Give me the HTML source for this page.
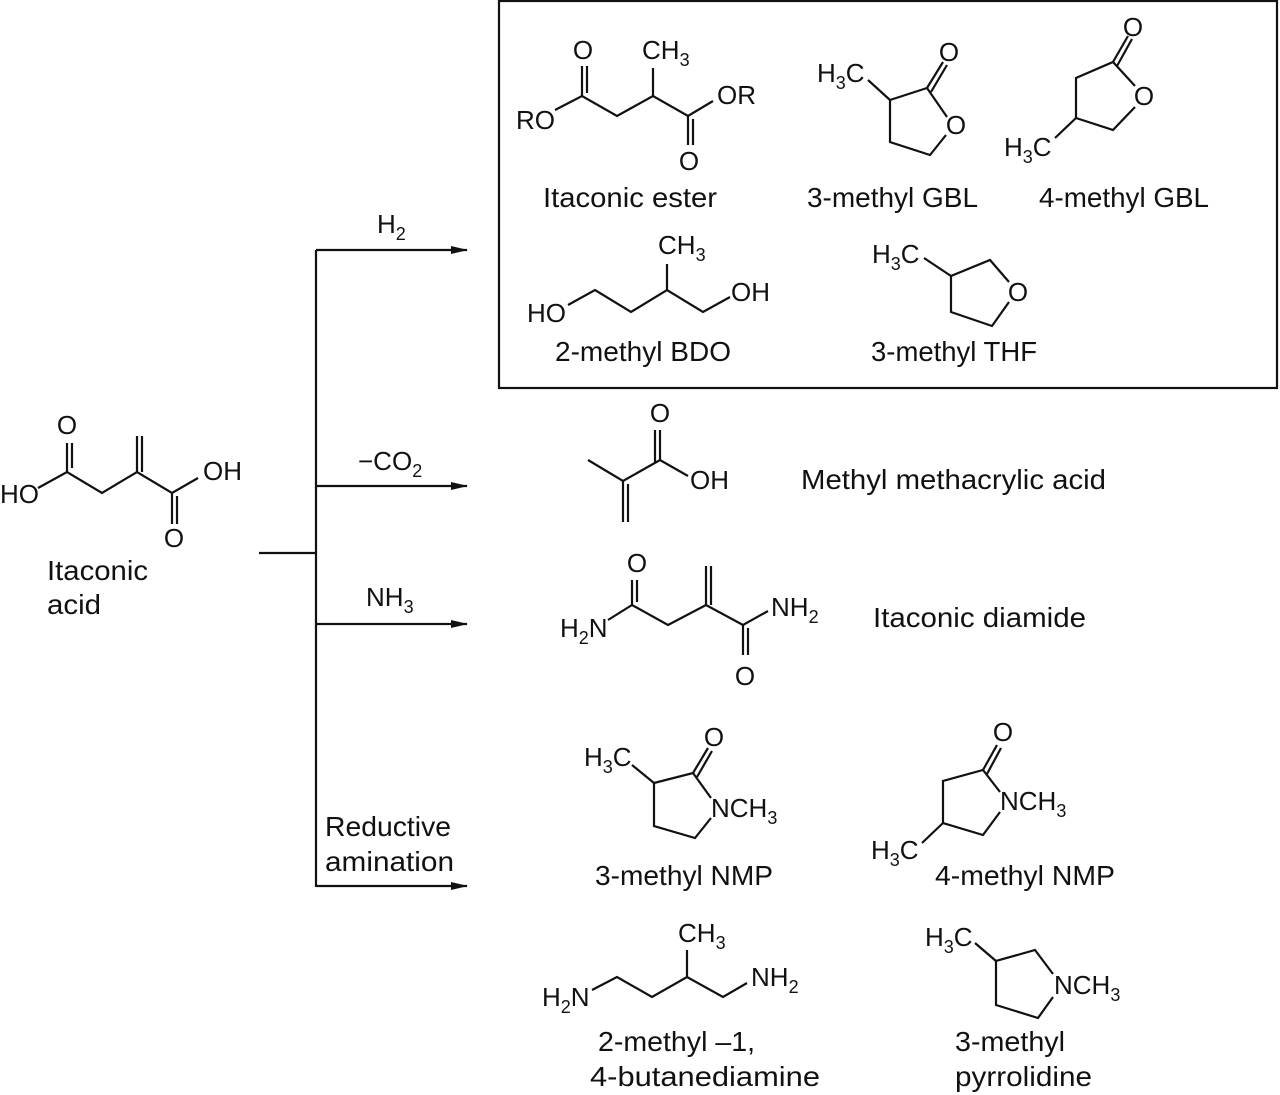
<!DOCTYPE html>
<html><head><meta charset="utf-8"><style>
html,body{margin:0;padding:0;background:#fff;}
svg{display:block;}
text{font-family:"Liberation Sans Narrow","Liberation Sans",sans-serif;fill:#111;}
.a{font-size:26px;}
.l{font-size:28px;}
.s{font-size:18px;}
line,polyline,polygon{stroke:#111;stroke-width:2.2;fill:none;}
</style></head><body>
<svg width="1280" height="1095" viewBox="0 0 1280 1095" xmlns="http://www.w3.org/2000/svg">
<defs><marker id="ar" markerWidth="18" markerHeight="10" refX="16" refY="5" orient="auto" markerUnits="userSpaceOnUse"><polygon points="0,1 17,5 0,9" style="fill:#111;stroke:none"/></marker></defs>

<rect x="499" y="1" width="778" height="387" fill="none" stroke="#111" stroke-width="2.2"/>

<line x1="259" y1="553" x2="316" y2="553"/>
<line x1="316" y1="250" x2="316" y2="887"/>
<line x1="316" y1="250" x2="467" y2="250" marker-end="url(#ar)"/>
<line x1="316" y1="486" x2="467" y2="486" marker-end="url(#ar)"/>
<line x1="316" y1="624" x2="467" y2="624" marker-end="url(#ar)"/>
<line x1="316" y1="886" x2="467" y2="886" marker-end="url(#ar)"/>
<text class="a" x="377" y="233">H<tspan class="s" dy="7">2</tspan></text>
<text class="a" x="358" y="470">−CO<tspan class="s" dy="7">2</tspan></text>
<text class="a" x="366" y="606">NH<tspan class="s" dy="7">3</tspan></text>
<text class="l" x="325" y="836" textLength="126" lengthAdjust="spacingAndGlyphs">Reductive</text>
<text class="l" x="325" y="871" textLength="129" lengthAdjust="spacingAndGlyphs">amination</text>

<!-- itaconic acid -->
<text class="a" x="0" y="503">HO</text>
<polyline points="38,488 67,472 102,493 137,472 172,493 198,478"/>
<line x1="67" y1="472" x2="67" y2="443"/><line x1="72" y1="468" x2="72" y2="443"/>
<text class="a" x="67" y="434" text-anchor="middle">O</text>
<line x1="137" y1="472" x2="137" y2="436"/><line x1="142" y1="472" x2="142" y2="436"/>
<line x1="172" y1="493" x2="172" y2="524"/><line x1="177" y1="496" x2="177" y2="524"/>
<text class="a" x="174" y="547" text-anchor="middle">O</text>
<text class="a" x="203" y="480">OH</text>
<text class="l" x="47" y="580" textLength="101" lengthAdjust="spacingAndGlyphs">Itaconic</text>
<text class="l" x="47" y="614" textLength="54" lengthAdjust="spacingAndGlyphs">acid</text>

<!-- itaconic ester -->
<text class="a" x="516" y="129">RO</text>
<polyline points="555,110 582,96 617,116 653,96 688,116 713,101"/>
<line x1="582" y1="96" x2="582" y2="66"/><line x1="587" y1="93" x2="587" y2="66"/>
<text class="a" x="583" y="59" text-anchor="middle">O</text>
<line x1="653" y1="96" x2="653" y2="68"/>
<text class="a" x="642" y="59">CH<tspan class="s" dy="7">3</tspan></text>
<line x1="688" y1="116" x2="688" y2="145"/><line x1="693" y1="119" x2="693" y2="145"/>
<text class="a" x="689" y="170" text-anchor="middle">O</text>
<text class="a" x="717" y="104">OR</text>
<text class="l" x="543" y="207" textLength="174" lengthAdjust="spacingAndGlyphs">Itaconic ester</text>

<!-- 3-methyl GBL -->
<text class="a" x="817" y="82">H<tspan class="s" dy="7">3</tspan><tspan dy="-7">C</tspan></text>
<line x1="868" y1="80" x2="890" y2="100"/>
<polyline points="890,100 927,88 947,117"/>
<polyline points="946,135 930,155 890,142 890,100"/>
<line x1="927" y1="88" x2="943" y2="62"/><line x1="931" y1="92" x2="947" y2="65"/>
<text class="a" x="949" y="61" text-anchor="middle">O</text>
<text class="a" x="956" y="134" text-anchor="middle">O</text>
<text class="l" x="807" y="207" textLength="171" lengthAdjust="spacingAndGlyphs">3-methyl GBL</text>

<!-- 4-methyl GBL -->
<polyline points="1135,107 1113,130 1076,118 1076,78 1113,62 1135,86"/>
<line x1="1113" y1="62" x2="1128" y2="36"/><line x1="1117" y1="66" x2="1132" y2="39"/>
<text class="a" x="1133" y="36" text-anchor="middle">O</text>
<text class="a" x="1144" y="105" text-anchor="middle">O</text>
<line x1="1076" y1="118" x2="1055" y2="138"/>
<text class="a" x="1004" y="156">H<tspan class="s" dy="7">3</tspan><tspan dy="-7">C</tspan></text>
<text class="l" x="1039" y="207" textLength="170" lengthAdjust="spacingAndGlyphs">4-methyl GBL</text>

<!-- 2-methyl BDO -->
<text class="a" x="527" y="322">HO</text>
<polyline points="568,305 595,290 631,312 667,290 703,312 730,297"/>
<line x1="667" y1="290" x2="667" y2="264"/>
<text class="a" x="658" y="254">CH<tspan class="s" dy="7">3</tspan></text>
<text class="a" x="731" y="301">OH</text>
<text class="l" x="555" y="361" textLength="176" lengthAdjust="spacingAndGlyphs">2-methyl BDO</text>

<!-- 3-methyl THF -->
<text class="a" x="872" y="263">H<tspan class="s" dy="7">3</tspan><tspan dy="-7">C</tspan></text>
<line x1="924" y1="258" x2="951" y2="276"/>
<polyline points="1009,282 990,260 951,276 951,312 992,326 1009,302"/>
<text class="a" x="1018" y="301" text-anchor="middle">O</text>
<text class="l" x="871" y="361" textLength="166" lengthAdjust="spacingAndGlyphs">3-methyl THF</text>

<!-- methacrylic acid -->
<polyline points="588,460 623,481 660,460 688,476"/>
<line x1="623" y1="481" x2="623" y2="522"/><line x1="628" y1="484" x2="628" y2="522"/>
<line x1="655" y1="463" x2="655" y2="430"/><line x1="660" y1="460" x2="660" y2="430"/>
<text class="a" x="660" y="422" text-anchor="middle">O</text>
<text class="a" x="690" y="489">OH</text>
<text class="l" x="801" y="489" textLength="305" lengthAdjust="spacingAndGlyphs">Methyl methacrylic acid</text>

<!-- itaconic diamide -->
<text class="a" x="560" y="637">H<tspan class="s" dy="7">2</tspan><tspan dy="-7">N</tspan></text>
<polyline points="608,620 632,605 668,625 706,605 743,625 768,611"/>
<line x1="632" y1="605" x2="632" y2="580"/><line x1="637" y1="602" x2="637" y2="580"/>
<text class="a" x="637" y="572" text-anchor="middle">O</text>
<line x1="706" y1="605" x2="706" y2="566"/><line x1="711" y1="605" x2="711" y2="566"/>
<line x1="743" y1="625" x2="743" y2="655"/><line x1="748" y1="628" x2="748" y2="655"/>
<text class="a" x="745" y="685" text-anchor="middle">O</text>
<text class="a" x="771" y="616">NH<tspan class="s" dy="7">2</tspan></text>
<text class="l" x="873" y="627" textLength="213" lengthAdjust="spacingAndGlyphs">Itaconic diamide</text>

<!-- 3-methyl NMP -->
<text class="a" x="584" y="766">H<tspan class="s" dy="7">3</tspan><tspan dy="-7">C</tspan></text>
<line x1="632" y1="765" x2="654" y2="783"/>
<polyline points="654,783 693,773 711,798"/>
<polyline points="711,818 695,838 654,826 654,783"/>
<line x1="693" y1="773" x2="708" y2="748"/><line x1="697" y1="777" x2="712" y2="751"/>
<text class="a" x="714" y="746" text-anchor="middle">O</text>
<text class="a" x="711" y="817">NCH<tspan class="s" dy="7">3</tspan></text>
<text class="l" x="595" y="885" textLength="178" lengthAdjust="spacingAndGlyphs">3-methyl NMP</text>

<!-- 4-methyl NMP -->
<polyline points="1000,812 983,835 943,823 943,781 983,770 1000,792"/>
<line x1="983" y1="770" x2="997" y2="745"/><line x1="987" y1="774" x2="1001" y2="748"/>
<text class="a" x="1003" y="741" text-anchor="middle">O</text>
<text class="a" x="1000" y="810">NCH<tspan class="s" dy="7">3</tspan></text>
<line x1="943" y1="823" x2="922" y2="843"/>
<text class="a" x="871" y="859">H<tspan class="s" dy="7">3</tspan><tspan dy="-7">C</tspan></text>
<text class="l" x="935" y="885" textLength="180" lengthAdjust="spacingAndGlyphs">4-methyl NMP</text>

<!-- diamine -->
<text class="a" x="542" y="1006">H<tspan class="s" dy="7">2</tspan><tspan dy="-7">N</tspan></text>
<polyline points="592,990 617,977 652,997 687,977 723,997 747,983"/>
<line x1="687" y1="977" x2="687" y2="950"/>
<text class="a" x="678" y="942">CH<tspan class="s" dy="7">3</tspan></text>
<text class="a" x="751" y="986">NH<tspan class="s" dy="7">2</tspan></text>
<text class="l" x="598" y="1051" textLength="157" lengthAdjust="spacingAndGlyphs">2-methyl –1,</text>
<text class="l" x="590" y="1086" textLength="230" lengthAdjust="spacingAndGlyphs">4-butanediamine</text>

<!-- 3-methyl pyrrolidine -->
<text class="a" x="925" y="946">H<tspan class="s" dy="7">3</tspan><tspan dy="-7">C</tspan></text>
<line x1="975" y1="943" x2="996" y2="961"/>
<polyline points="1053,974 1035,950 996,961 996,1005 1038,1018 1053,997"/>
<text class="a" x="1054" y="994">NCH<tspan class="s" dy="7">3</tspan></text>
<text class="l" x="955" y="1051" textLength="110" lengthAdjust="spacingAndGlyphs">3-methyl</text>
<text class="l" x="955" y="1086" textLength="137" lengthAdjust="spacingAndGlyphs">pyrrolidine</text>
</svg>
</body></html>
